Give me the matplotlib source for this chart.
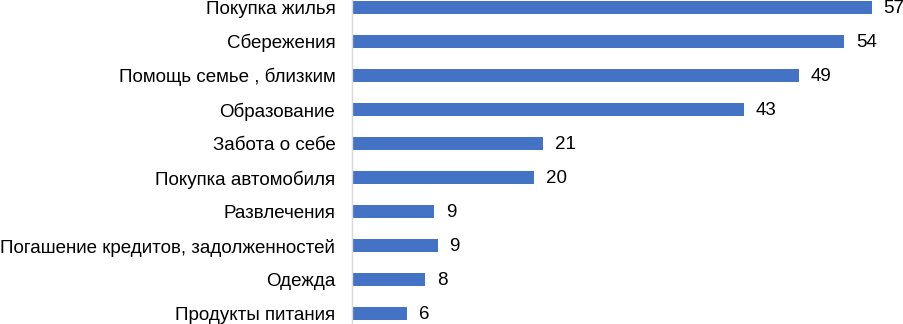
import matplotlib
matplotlib.use('Agg')
import matplotlib.pyplot as plt

plt.rcParams['font.family'] = ['Liberation Sans', 'DejaVu Sans']

# categories and values (percent), top to bottom
categories = ['Покупка жилья', 'Сбережения', 'Помощь семье , близким',
              'Образование', 'Забота о себе', 'Покупка автомобиля',
              'Развлечения', 'Погашение кредитов, задолженностей',
              'Одежда', 'Продукты питания']
values = [57, 54, 49, 43, 21, 20, 9, 9.4, 8, 6]
labels = ['57', '54', '49', '43', '21', '20', '9', '9', '8', '6']

fig = plt.figure(figsize=(9.04, 3.24), dpi=100)
ax = fig.add_axes([352 / 904, -7 / 324, 538 / 904, 341 / 324])

pos = list(range(len(categories)))
ax.barh(pos, values, height=0.38, color='#4472C4')
for p, v, t in zip(pos, values, labels):
    ax.text(v + 1.3, p + 0.03, t, va='center', ha='left', fontsize=13.5, color='#000000')

ax.set_xlim(0, 59)
ax.set_ylim(len(categories) - 0.5, -0.5)
ax.set_yticks(pos)
ax.set_yticklabels(categories, fontsize=13.5)
ax.tick_params(axis='y', length=0, pad=12)
ax.set_xticks([])
for s in ['top', 'right', 'bottom']:
    ax.spines[s].set_visible(False)
ax.spines['left'].set_color('#D9D9D9')
ax.spines['left'].set_linewidth(1)

fig.savefig('out.png', dpi=100)
